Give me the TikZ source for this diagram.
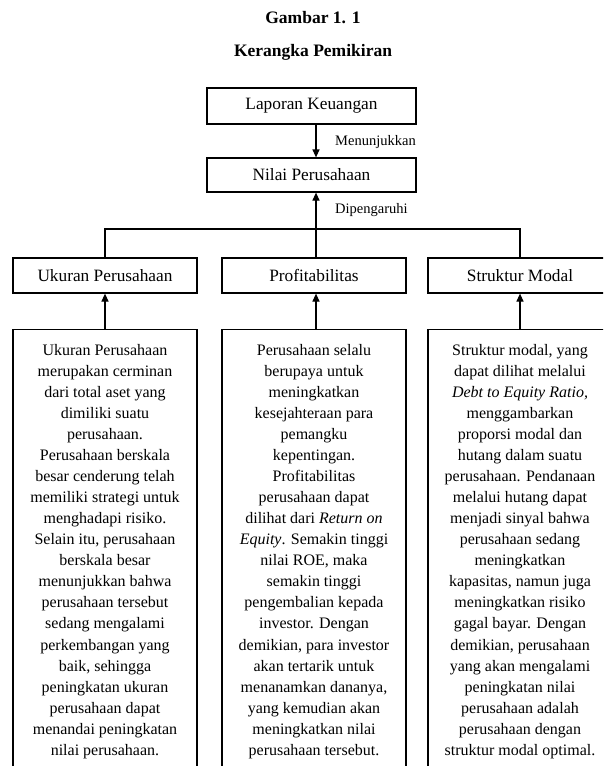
\documentclass[tikz,border=0pt]{standalone}
\usepackage{fontspec}
\setmainfont{Liberation Serif}
\usetikzlibrary{arrows.meta}
\begin{document}
\begin{tikzpicture}[x=1pt,y=-1pt,
  box/.style={draw,line width=1.2pt,minimum width=184pt,minimum height=35pt,inner sep=0pt,font=\fontsize{17.3}{20}\selectfont},
  tallbox/.style={draw,line width=1.2pt,minimum width=184pt,minimum height=470pt,inner sep=0pt,anchor=north},
  arr/.style={line width=1.2pt,-{Triangle[length=8pt,width=7pt]}},
  ln/.style={line width=1.2pt},
  body/.style={align=center,inner sep=0pt,font=\fontsize{16}{21.05}\selectfont,anchor=north},
  lbl/.style={anchor=west,inner sep=0pt,font=\fontsize{14.5}{17}\selectfont},
  ttl/.style={font=\bfseries\fontsize{17.5}{20}\selectfont,inner sep=0pt}]
\useasboundingbox (0,0) rectangle (603,766);
\clip (0,0) rectangle (603,766);
\fill[white] (0,0) rectangle (603,766);
\node[ttl] (t1) at (313,18) {Gambar 1. 1};
\node[ttl] (t2) at (313,52) {Kerangka Pemikiran};
\node[box,minimum width=209pt,minimum height=36pt] (lap) at (311.5,106) {Laporan Keuangan};
\node[box,minimum width=209pt,minimum height=34pt] (nil) at (311.5,175) {Nilai Perusahaan};
\coordinate (mx) at (316,0);
\draw[arr] (lap.south -| mx) -- (nil.north -| mx);
\node[lbl] (l1) at (335,142) {Menunjukkan};
\node[box] (uk) at (105,275.5) {Ukuran Perusahaan};
\node[box] (pr) at (314,275.5) {Profitabilitas};
\node[box] (sm) at (520,275.5) {Struktur Modal};
\coordinate (jn) at (316,229);
\draw[arr] (pr.north -| mx) -- (nil.south -| mx);
\draw[ln] (uk.north) |- (jn) -| (sm.north);
\node[lbl] (l2) at (335,210) {Dipengaruhi};
\node[tallbox] (ukb) at (105,329) {};
\node[tallbox] (prb) at (314,329) {};
\node[tallbox] (smb) at (520,329) {};
\draw[arr] (ukb.north) -- (uk.south);
\draw[arr] (prb.north -| mx) -- (pr.south -| mx);
\draw[arr] (smb.north) -- (sm.south);
\node[body] (ukt) at (105,344) {Ukuran Perusahaan\\merupakan cerminan\\dari total aset yang\\dimiliki suatu\\perusahaan.\\Perusahaan berskala\\besar cenderung telah\\memiliki strategi untuk\\menghadapi risiko.\\Selain itu, perusahaan\\berskala besar\\menunjukkan bahwa\\perusahaan tersebut\\sedang mengalami\\perkembangan yang\\baik, sehingga\\peningkatan ukuran\\perusahaan dapat\\menandai peningkatan\\nilai perusahaan.};
\node[body] (prt) at (314,344) {Perusahaan selalu\\berupaya untuk\\meningkatkan\\kesejahteraan para\\pemangku\\kepentingan.\\Profitabilitas\\perusahaan dapat\\dilihat dari \textit{Return on}\\\textit{Equity}. Semakin tinggi\\nilai ROE, maka\\semakin tinggi\\pengembalian kepada\\investor. Dengan\\demikian, para investor\\akan tertarik untuk\\menanamkan dananya,\\yang kemudian akan\\meningkatkan nilai\\perusahaan tersebut.};
\node[body] (smt) at (520,344) {Struktur modal, yang\\dapat dilihat melalui\\\textit{Debt to Equity Ratio,}\\menggambarkan\\proporsi modal dan\\hutang dalam suatu\\perusahaan. Pendanaan\\melalui hutang dapat\\menjadi sinyal bahwa\\perusahaan sedang\\meningkatkan\\kapasitas, namun juga\\meningkatkan risiko\\gagal bayar. Dengan\\demikian, perusahaan\\yang akan mengalami\\peningkatan nilai\\perusahaan adalah\\perusahaan dengan\\struktur modal optimal.};
\end{tikzpicture}
\end{document}
